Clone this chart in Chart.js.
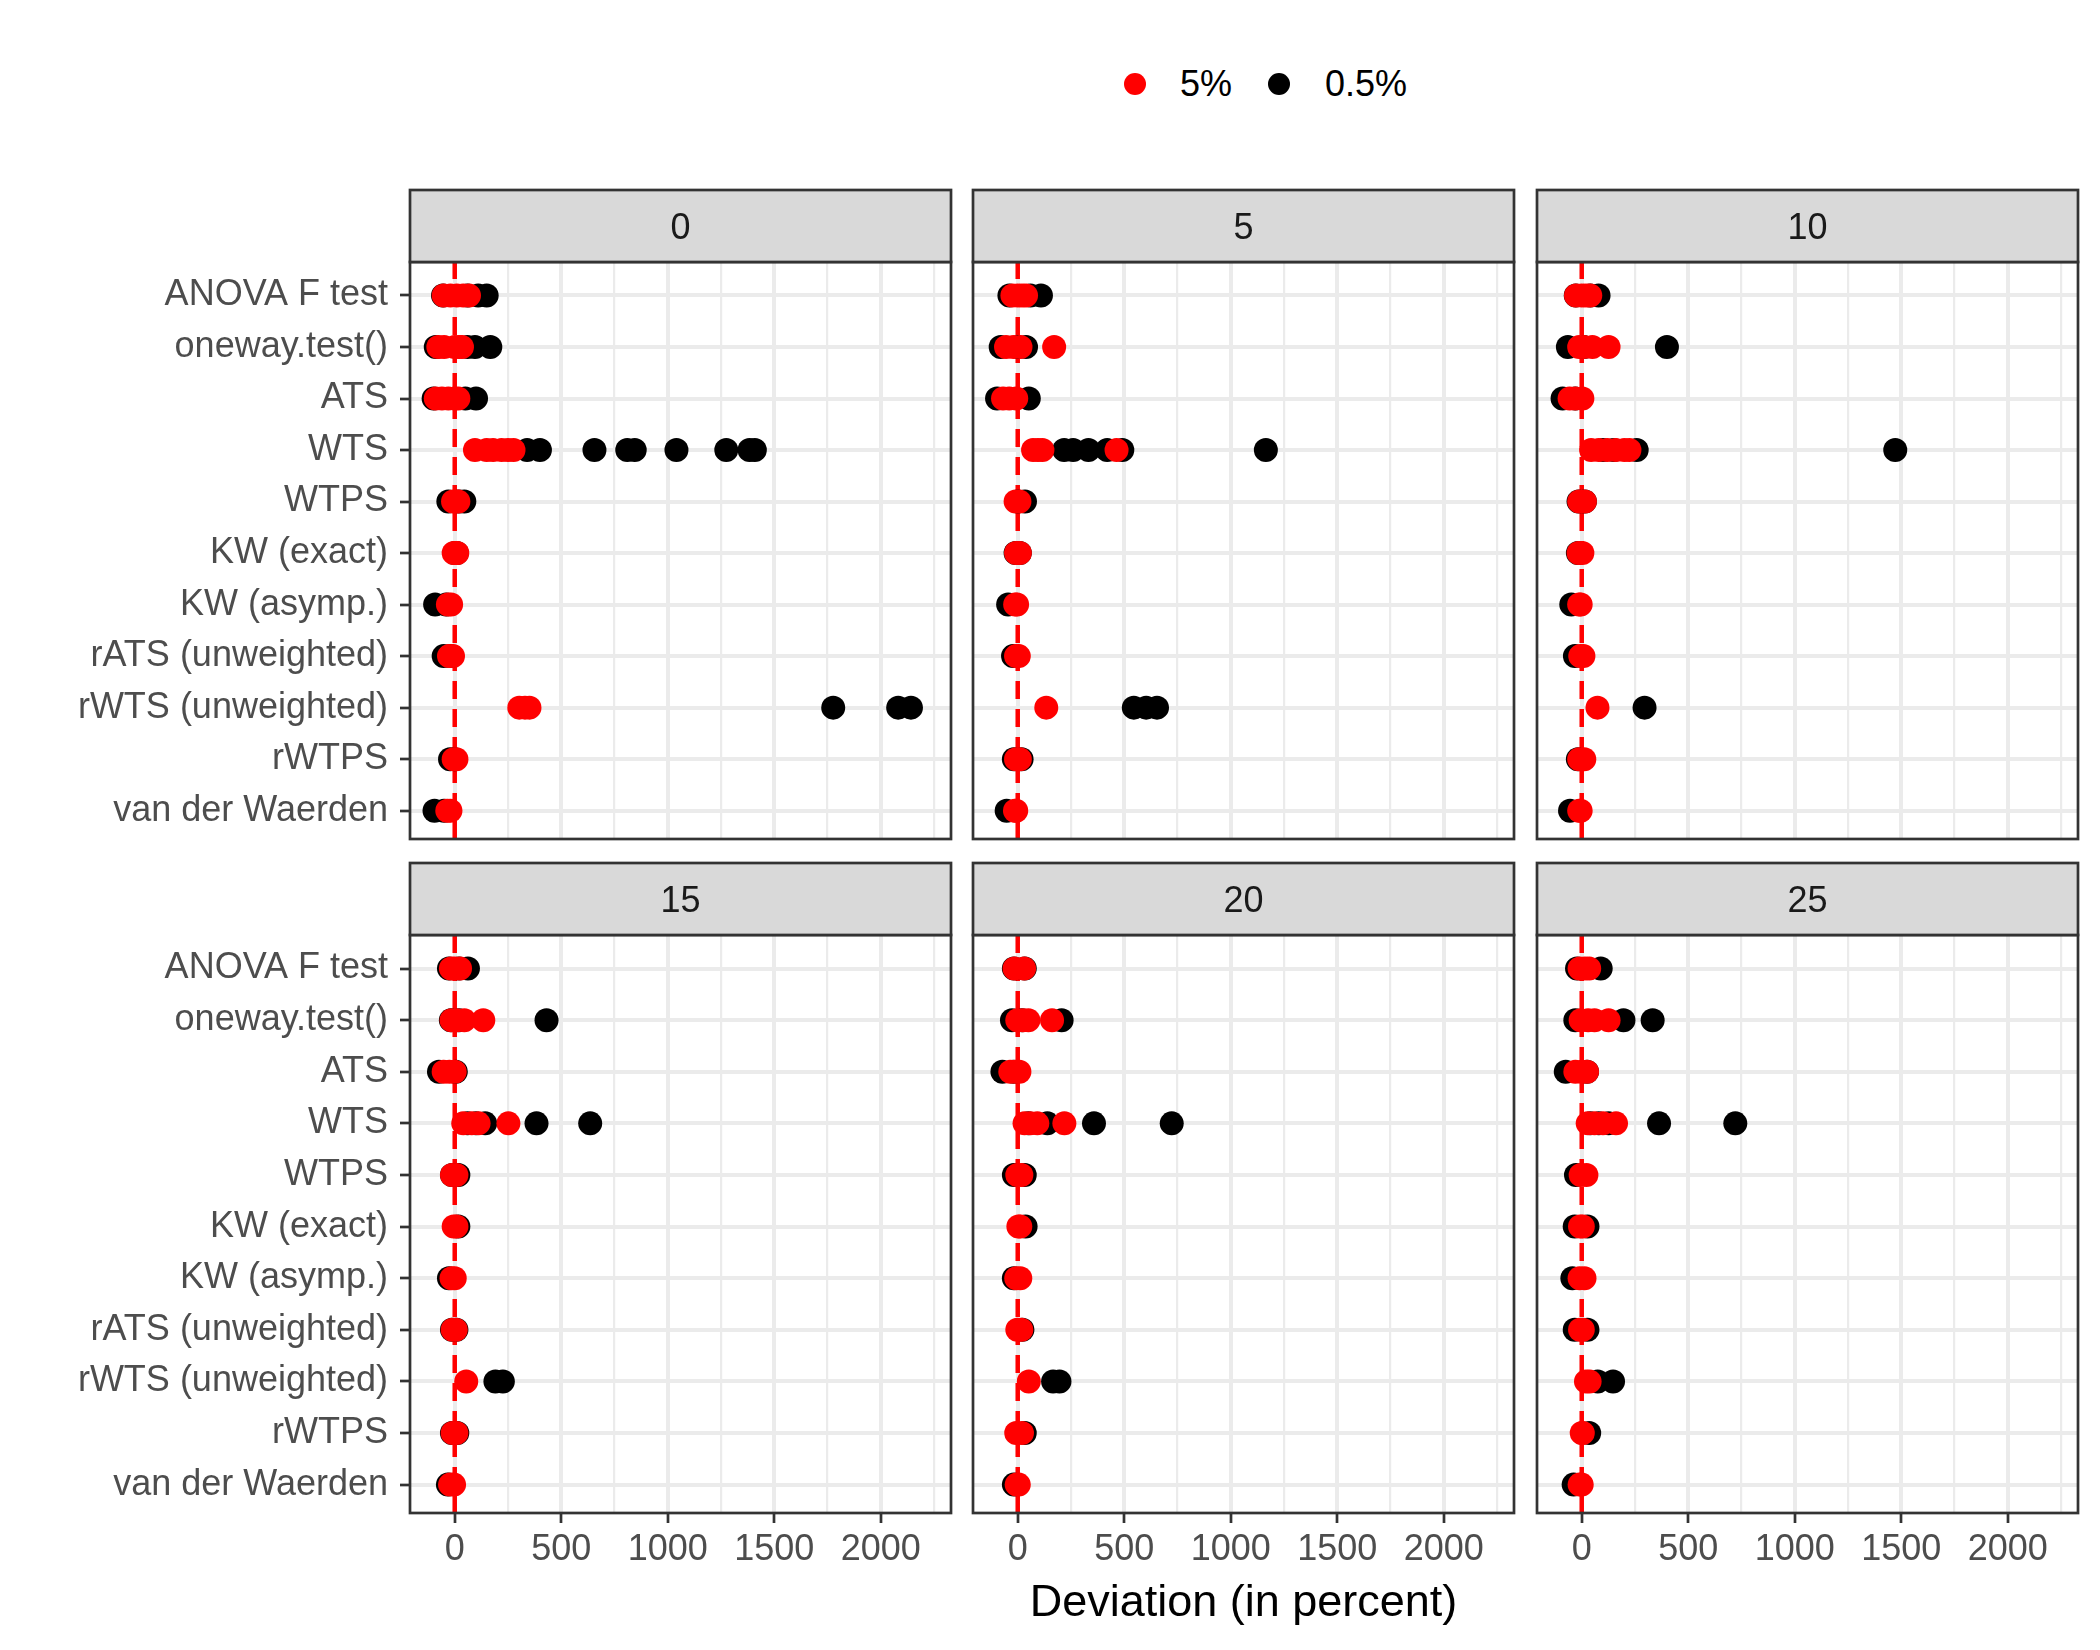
<!DOCTYPE html>
<html>
<head>
<meta charset="utf-8">
<script src="https://cdn.jsdelivr.net/npm/chart.js@4.4.0/dist/chart.umd.min.js"></script>
<style>
  body { margin: 0; background: #fff; }
  #page { position: relative; width: 2100px; height: 1650px; overflow: hidden; font-family: 'Liberation Sans', Arial, sans-serif; }
  #page canvas { position: absolute; left: 0; top: 0; }
  .dot { position: absolute; width: 22px; height: 22px; border-radius: 50%; }
  .lab { position: absolute; font-size: 36px; line-height: 36px; color: #000; }
</style>
</head>
<body>
<div id="page">
  <div class="dot" style="left:1124px; top:73px; background:#ff0000"></div>
  <div class="lab" style="left:1180px; top:66px">5%</div>
  <div class="dot" style="left:1268px; top:73px; background:#000000"></div>
  <div class="lab" style="left:1325px; top:66px">0.5%</div>
</div>
<script>
const tests = ["ANOVA F test", "oneway.test()", "ATS", "WTS", "WTPS", "KW (exact)",
  "KW (asymp.)", "rATS (unweighted)", "rWTS (unweighted)", "rWTPS", "van der Waerden"];
const panels = ["0", "5", "10", "15", "20", "25"];
const xTicks = [0, 250, 500, 750, 1000, 1250, 1500, 1750, 2000, 2250];
const xMajor = [0, 500, 1000, 1500, 2000];

// deviation values per test (same order as tests), 5% level in red, 0.5% in black
const red0 = [[-52, -20, 10, 40, 67], [-77, -50, 0, 20, 34], [-89, -60, -30, 0, 17],
  [95, 150, 180, 220, 250, 276], [-8, 5, 17], [-5, 5, 12], [-32, -17], [-27, -8],
  [303, 330, 351], [-5, 8], [-35, -20]];
const black0 = [[-55, 60, 110, 150], [-89, 60, 95, 167], [-99, 50, 100],
  [340, 400, 656, 810, 845, 1041, 1275, 1384, 1409], [-30, 20, 45], [0, 10], [-92, -40],
  [-52, -20], [1777, 2082, 2142], [-22, 0], [-95, -50]];

const red5 = [[-25, 0, 20, 39], [-55, -20, 13, 171], [-69, -40, -7], [72, 95, 116, 464],
  [-10, 8], [-8, 10], [-12, -3], [-8, 5], [134], [-8, 10], [-13, -7]];
const black5 = [[-39, 60, 109], [-80, 0, 39], [-97, 52], [218, 260, 332, 420, 491, 1165],
  [0, 34], [-10, 10], [-45], [-22], [545, 603, 654], [-18, 18], [-52]];

const red10 = [[-27, 0, 20, 40], [-12, 10, 50, 126], [-57, -30, 3], [44, 80, 120, 160, 200, 224],
  [-12, 15], [-15, 3], [-12, -5], [-7, 8], [74], [-12, 12], [-12, -5]];
const black10 = [[-28, 40, 79], [-65, 10, 400], [-90, -30], [100, 150, 258, 1472],
  [-15, 15], [-18], [-49], [-32], [295], [-18], [-55]];

const red15 = [[-18, 0, 25], [-15, 10, 45, 134], [-52, -25, 0], [40, 80, 112, 252],
  [-13, 8], [-5, 8], [-15, 0], [-10, 5], [54], [-10, 8], [-22, -3]];
const black15 = [[-27, 20, 62], [-18, 20, 431], [-74, 5], [60, 100, 143, 384, 636],
  [-13, 17], [17], [-27], [-13, 8], [191, 226], [-13, 12], [-32]];

const red20 = [[-15, 30], [-2, 25, 50, 161], [-35, -10, 8], [32, 60, 92, 219],
  [-2, 17], [3, 12], [-7, 12], [-2, 17], [52], [-7, 20], [-5, 5]];
const black20 = [[-18, 33], [-27, 20, 206], [-72, -20], [50, 139, 358, 723],
  [-18, 33], [37], [-18], [22], [166, 196], [33], [-18]];

const red25 = [[-10, 15, 35], [-5, 30, 60, 126], [-30, 0, 25], [28, 60, 100, 161],
  [-5, 22], [-8, 5], [-10, 13], [-8, 5], [20, 37], [0, 5], [-10, 0]];
const black25 = [[-22, 89], [-30, 196, 333], [-75, 25], [40, 80, 126, 363, 721],
  [-27], [-33, 27], [-44], [-33, 27], [75, 147], [35], [-38]];

const redByPanel = [red0, red5, red10, red15, red20, red25];
const blackByPanel = [black0, black5, black10, black15, black20, black25];

// page layout (px)
const colLeft = [410, 973, 1537];
const panelW = 541;
const plotTop = [262, 935];
const plotBottom = [839, 1513];
const stripH = 72;

Chart.defaults.font.family = "'Liberation Sans', Arial, sans-serif";

function toPoints(rows) {
  const pts = [];
  rows.forEach((vals, i) => vals.forEach(v => pts.push({ x: v, y: i })));
  return pts;
}

// facet decorations: dashed zero line, panel border, strip with label
const facetPlugin = {
  id: 'facet',
  beforeDatasetsDraw(chart) {
    const { ctx, chartArea } = chart;
    const x0 = chart.scales.x.getPixelForValue(0);
    ctx.save();
    ctx.strokeStyle = '#ff0000';
    ctx.lineWidth = 4.5;
    ctx.setLineDash([18, 10]);
    ctx.beginPath();
    ctx.moveTo(x0, chartArea.bottom);
    ctx.lineTo(x0, chartArea.top);
    ctx.stroke();
    ctx.restore();
  },
  afterDraw(chart, args, opts) {
    const { ctx, chartArea } = chart;
    const w = chartArea.right - chartArea.left;
    ctx.save();
    ctx.strokeStyle = '#333333';
    ctx.lineWidth = 2.7;
    ctx.strokeRect(chartArea.left, chartArea.top, w, chartArea.bottom - chartArea.top);
    ctx.fillStyle = '#d9d9d9';
    ctx.fillRect(chartArea.left, chartArea.top - stripH, w, stripH);
    ctx.strokeRect(chartArea.left, chartArea.top - stripH, w, stripH);
    ctx.fillStyle = '#1a1a1a';
    ctx.font = "36px 'Liberation Sans', Arial, sans-serif";
    ctx.textAlign = 'center';
    ctx.textBaseline = 'middle';
    ctx.fillText(opts.label, chartArea.left + w / 2, chartArea.top - stripH / 2 + 3);
    ctx.restore();
  }
};

const page = document.getElementById('page');

panels.forEach((label, p) => {
  const col = p % 3;
  const row = Math.floor(p / 3);
  const isBottom = row === 1;
  const canvas = document.createElement('canvas');
  canvas.width = 2100;
  canvas.height = 1650;
  page.appendChild(canvas);

  new Chart(canvas, {
    type: 'scatter',
    data: {
      datasets: [
        { label: '5%', data: toPoints(redByPanel[p]), backgroundColor: '#ff0000' },
        { label: '0.5%', data: toPoints(blackByPanel[p]), backgroundColor: '#000000' }
      ]
    },
    options: {
      responsive: false,
      animation: false,
      events: [],
      devicePixelRatio: 1,
      elements: { point: { radius: 12, hoverRadius: 12, borderWidth: 0 } },
      layout: {
        padding: {
          left: col === 0 ? 0 : colLeft[col],
          right: 2100 - colLeft[col] - panelW,
          top: plotTop[row],
          bottom: isBottom ? 0 : 1650 - plotBottom[row]
        }
      },
      scales: {
        x: {
          type: 'linear',
          min: -210,
          max: 2330,
          afterBuildTicks: s => { s.ticks = xTicks.map(v => ({ value: v })); },
          afterFit: s => { s.height = isBottom ? 1650 - plotBottom[1] : 0; },
          border: { display: false },
          grid: {
            color: '#ebebeb',
            lineWidth: c => (c.tick && xMajor.includes(c.tick.value)) ? 4 : 2.2,
            drawTicks: isBottom,
            tickLength: 10,
            tickWidth: 2.7,
            tickColor: c => (c.tick && xMajor.includes(c.tick.value)) ? '#333333' : 'rgba(0,0,0,0)'
          },
          ticks: {
            display: isBottom,
            autoSkip: false,
            maxRotation: 0,
            padding: 5,
            color: '#4d4d4d',
            font: { size: 36 },
            callback: v => xMajor.includes(v) ? String(v) : ''
          },
          title: {
            display: p === 4,
            text: 'Deviation (in percent)',
            color: '#000000',
            font: { size: 45 },
            padding: { top: 0, bottom: 19 }
          }
        },
        y: {
          type: 'linear',
          min: -0.65,
          max: 10.55,
          reverse: true,
          afterBuildTicks: s => { s.ticks = tests.map((t, i) => ({ value: i })); },
          afterFit: s => { s.width = col === 0 ? colLeft[0] : 0; },
          border: { display: false },
          grid: {
            color: '#ebebeb',
            lineWidth: 4,
            drawTicks: col === 0,
            tickLength: 10,
            tickWidth: 2.7,
            tickColor: '#333333'
          },
          ticks: {
            display: col === 0,
            autoSkip: false,
            padding: 12,
            color: '#4d4d4d',
            font: { size: 36 },
            callback: v => tests[v]
          }
        }
      },
      plugins: {
        legend: { display: false },
        tooltip: { enabled: false },
        facet: { label: label }
      }
    },
    plugins: [facetPlugin]
  });
});
</script>
</body>
</html>
